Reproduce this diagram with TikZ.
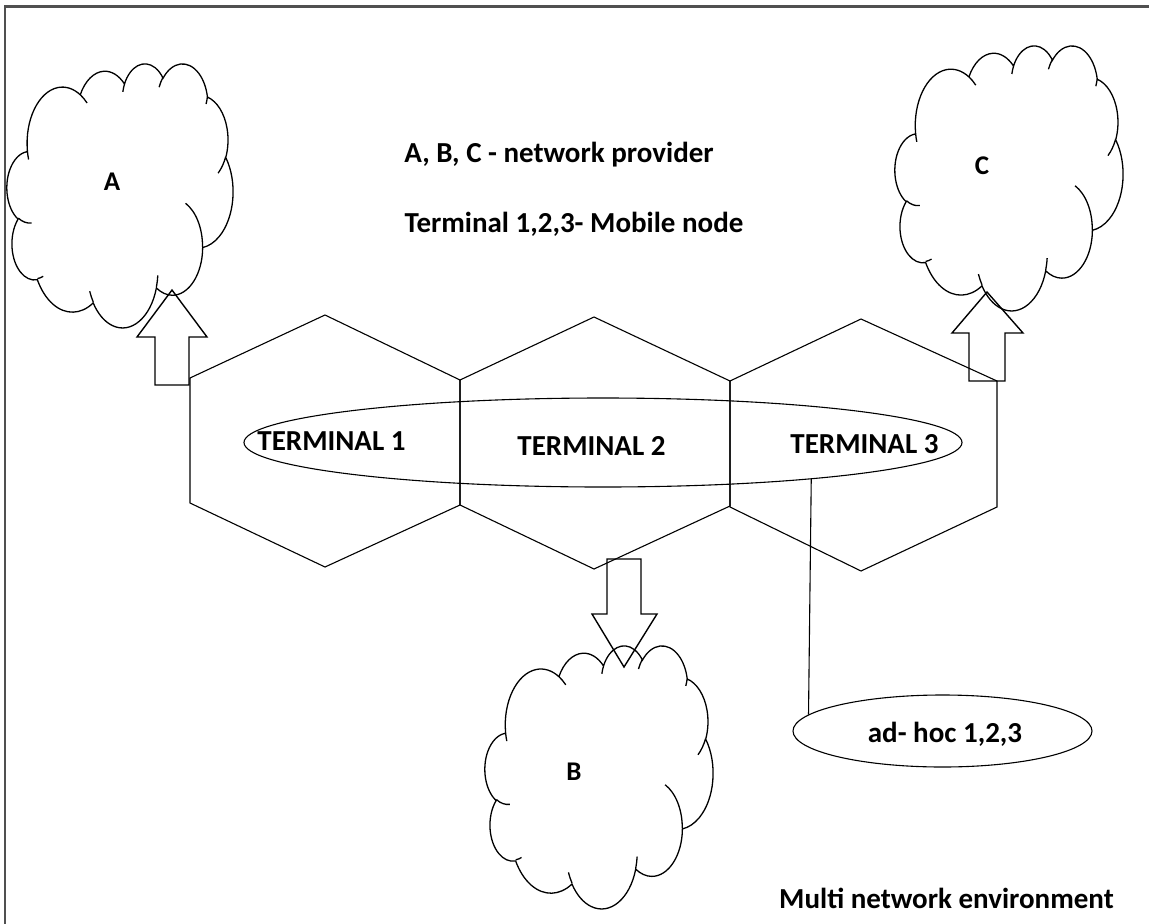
\documentclass[tikz,border=0pt]{standalone}
\usepackage{fontspec}
\setmainfont{Carlito}
\usetikzlibrary{shapes.geometric}

% ---------- cloud outline: preset cloud geometry, path space 432 x 432 ----------
% parametric angle (negated for the y-up page) of a point given by its visual angle
\newcommand\cldparam[4]{%
  \pgfmathsetmacro\cldtmp{atan2((#3)*sin(#2),(#4)*cos(#2))-(#2)}%
  \pgfmathsetmacro#1{0-((#2)+(\cldtmp)-360*round((\cldtmp)/360))}%
}
% elliptical arc: x radius, y radius, start angle, sweep (path units, degrees)
\newcommand\cldarc[4]{%
  \cldparam\cldts{#3}{#1}{#2}%
  \cldparam\cldte{(#3)+(#4)}{#1}{#2}%
  \pgfmathsetmacro\cldrx{(#1)*\cldsx}%
  \pgfmathsetmacro\cldry{(#2)*\cldsy}%
  \pgfpatharc{\cldts}{\cldte}{\cldrx pt and \cldry pt}%
}
\newcommand\cldpt[2]{\pgfpoint{(\cldox+(#1)*\cldsx)*1pt}{(0-\cldoy-(#2)*\cldsy)*1pt}}
% cloud in the box with left edge #1, top edge #2, width #3, height #4
\newcommand\drawcloud[4]{%
  \def\cldox{#1}\def\cldoy{#2}%
  \pgfmathsetmacro\cldsx{(#3)/432}%
  \pgfmathsetmacro\cldsy{(#4)/432}%
  \pgfpathmoveto{\cldpt{39.00}{143.70}}%
  \cldarc{67.53}{91.90}{-190.48748}{123.78053}%
  \cldarc{53.33}{72.67}{-144.10238}{89.94523}%
  \cldarc{43.65}{59.45}{-145.80792}{99.72302}%
  \cldarc{48.57}{65.95}{-130.98607}{117.24173}%
  \cldarc{53.33}{72.73}{-78.70888}{109.02692}%
  \cldarc{67.75}{92.20}{-46.26725}{130.26900}%
  \cldarc{57.85}{78.67}{0.62502}{114.03333}%
  \cldarc{67.52}{92.15}{22.45160}{115.17255}%
  \cldarc{77.20}{105.43}{66.24263}{75.71102}%
  \cldarc{43.60}{59.18}{-274.94208}{146.73557}%
  \cldarc{43.45}{59.45}{-246.82850}{152.51885}%
  \pgfpathclose
  % inner hooks between the puffs
  \pgfpathmoveto{\cldpt{46.93}{261.77}}\cldarc{43.45}{59.45}{86.74200}{26.42950}%
  \pgfpathmoveto{\cldpt{69.28}{348.99}}\cldarc{43.60}{59.18}{73.61047}{11.44747}%
  \pgfpathmoveto{\cldpt{164.78}{390.90}}\cldarc{67.52}{92.15}{137.62415}{14.08110}%
  \pgfpathmoveto{\cldpt{288.27}{347.51}}\cldarc{67.52}{92.15}{6.45327}{15.99835}%
  \pgfpathmoveto{\cldpt{341.29}{229.54}}\cldarc{57.85}{78.67}{-70.29235}{70.91737}%
  \pgfpathmoveto{\cldpt{417.98}{153.54}}\cldarc{53.33}{72.73}{30.31803}{27.75150}%
  \pgfpathmoveto{\cldpt{383.24}{54.26}}\cldarc{48.57}{65.95}{13.74433}{14.85890}%
  \pgfpathmoveto{\cldpt{290.78}{39.52}}\cldarc{48.57}{65.95}{-149.18145}{18.19537}%
  \pgfpathmoveto{\cldpt{221.41}{47.20}}\cldarc{43.65}{59.45}{-163.49427}{17.68635}%
  \pgfpathmoveto{\cldpt{140.00}{51.92}}\cldarc{67.53}{91.90}{-66.70695}{12.31935}%
  \pgfpathmoveto{\cldpt{41.27}{157.89}}\cldarc{67.53}{91.90}{157.65435}{11.85817}%
  \pgfusepath{stroke}%
}

\tikzset{
  frame/.style={draw={rgb,255:red,80;green,80;blue,80}, line width=2.4pt},
  cloudline/.style={draw=black, line width=1.3pt},
  cell/.style={draw=black, line width=1.1pt, line join=miter},
  blockarrow/.style={draw=black, line width=1.4pt, line join=miter},
  ring/.style={ellipse, draw=black, line width=1.1pt, inner sep=0pt},
  link/.style={draw=black, line width=1.1pt},
  heading/.style={font=\bfseries\fontsize{29}{34}\selectfont, inner sep=0pt, anchor=base},
  termlbl/.style={font=\bfseries\fontsize{29}{34}\selectfont, inner sep=0pt, anchor=base},
  netlbl/.style={font=\bfseries\fontsize{27}{32}\selectfont, inner sep=0pt, anchor=base},
}

\begin{document}
\begin{tikzpicture}[x=1pt, y=-1pt]
  \useasboundingbox (0,0) rectangle (1149,924);
  \fill[white] (0,0) rectangle (1149,924);

  % page frame
  \draw[frame] (1149,6.5) -- (5,6.5) -- (5,924);

  % legend
  \node[heading] (legend1) at (559,162) {A, B, C - network provider};
  \node[heading] (legend2) at (574,232) {Terminal 1,2,3- Mobile node};

  % three hexagonal cells
  \draw[cell] (190,378) -- (325,315) -- (460,380) -- (460,505) -- (325,567) -- (190,503) -- cycle;
  \draw[cell] (460,380) -- (594,317) -- (730,381) -- (730,506) -- (594,569) -- (460,505) -- cycle;
  \draw[cell] (730,381) -- (861,319) -- (997,381) -- (997,507) -- (861,571) -- (730,507) -- cycle;

  % terminals
  \node[ring, minimum width=718pt, minimum height=89pt] (terminals) at (603,442.5) {};
  \node[termlbl] (t1) at (331.5,450) {TERMINAL 1};
  \node[termlbl] (t2) at (591.5,455) {TERMINAL 2};
  \node[termlbl] (t3) at (864.5,453) {TERMINAL 3};

  % ad-hoc group
  \node[ring, minimum width=299pt, minimum height=72pt] (adhoc) at (942.5,731) {};
  \node[termlbl] (adhoclbl) at (945,742) {ad- hoc 1,2,3};
  \draw[link] (terminals.-10.1) -- (adhoc.173.3);

  % network providers
  \begin{scope}[cloudline]
    \drawcloud{7}{63}{226}{264}
    \drawcloud{895}{45}{228}{265}
    \drawcloud{485}{645}{228}{263}
  \end{scope}
  \node[netlbl] (labA) at (112,190) {A};
  \node[netlbl] (labC) at (982,174) {C};
  \node[netlbl] (labB) at (574,780) {B};

  % block arrows towards the providers
  \draw[blockarrow] (155,385) -- (155,337) -- (137,337) -- (172,290) -- (207,337) -- (189,337) -- (189,385) -- cycle;
  \draw[blockarrow] (969,381) -- (969,333) -- (952,333) -- (987,292) -- (1023,333) -- (1005,333) -- (1005,381) -- cycle;
  \draw[blockarrow] (607,559) -- (641,559) -- (641,614) -- (657,614) -- (624,667) -- (592,614) -- (607,614) -- cycle;

  % caption
  \node[heading] (caption) at (946.5,908) {Multi network environment};
\end{tikzpicture}
\end{document}
